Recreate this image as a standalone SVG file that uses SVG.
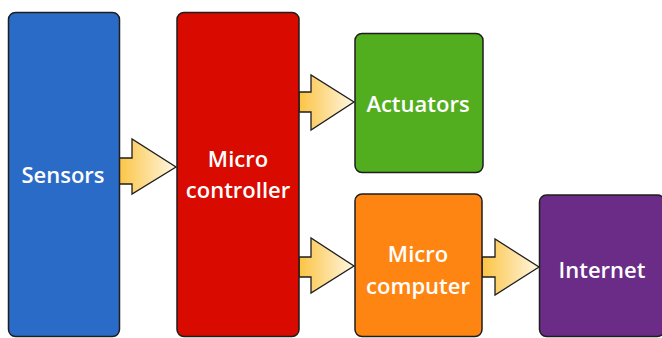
<svg xmlns="http://www.w3.org/2000/svg" width="662" height="338" viewBox="0 0 662 338">
<defs>
<linearGradient id="ag" x1="0" y1="0" x2="1" y2="0">
<stop offset="0" stop-color="#fbc443"/>
<stop offset="1" stop-color="#fff6e2"/>
</linearGradient>
<style>
.box{stroke:#1e1e1e;stroke-width:1.5}
.lbl{fill:#ffffff;font-family:"Open Sans","Noto Sans","DejaVu Sans",sans-serif;font-size:22px;font-weight:600;text-anchor:middle}
.arr{fill:url(#ag);stroke:#1e1e1e;stroke-width:1.3;stroke-linejoin:miter}
</style>
</defs>
<rect width="662" height="338" fill="#ffffff"/>
<g id="connectors">
<path class="arr" d="M118,158 H132 V139 L176,167 L132,194 V184 H118 Z"/>
<path class="arr" d="M299,92 H311 V75 L354,102 L311,130 V112 H299 Z"/>
<path class="arr" d="M299,257 H311 V238 L354,266 L311,293 V277 H299 Z"/>
<path class="arr" d="M482,257 H495 V239 L539,267 L495,295 V277 H482 Z"/>
</g>
<g id="sensors">
<rect class="box" x="8.5" y="12.5" width="111" height="324" rx="7" fill="#2b6bc8"/>
<text class="lbl" x="63" y="183">Sensors</text>
</g>
<g id="microcontroller">
<rect class="box" x="177" y="12.5" width="122" height="324" rx="7" fill="#d90a00"/>
<text class="lbl" x="238" y="167">Micro</text>
<text class="lbl" x="238" y="198">controller</text>
</g>
<g id="actuators">
<rect class="box" x="355" y="33.5" width="128" height="139" rx="7" fill="#52ae1f"/>
<text class="lbl" x="418" y="112">Actuators</text>
</g>
<g id="microcomputer">
<rect class="box" x="355" y="194" width="127" height="142.5" rx="7" fill="#ff8512"/>
<text class="lbl" x="418" y="262">Micro</text>
<text class="lbl" x="418" y="294">computer</text>
</g>
<g id="internet">
<rect class="box" x="539.5" y="195" width="125" height="141.5" rx="7" fill="#6b2c87"/>
<text class="lbl" x="602" y="278">Internet</text>
</g>
</svg>
